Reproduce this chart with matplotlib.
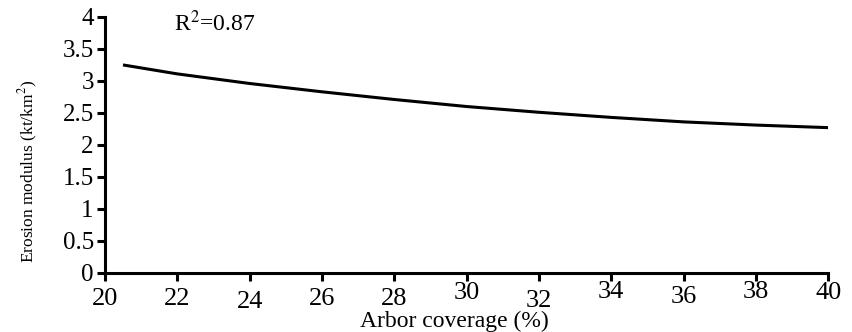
import numpy as np
import matplotlib
matplotlib.use('Agg')
import matplotlib.pyplot as plt
from matplotlib.transforms import ScaledTranslation

# fitted curve
coverage = [20.5, 22, 24, 26, 28, 30, 32, 34, 36, 38, 40]
erosion = [3.25, 3.11, 2.96, 2.83, 2.71, 2.60, 2.51, 2.43, 2.36, 2.31, 2.27]
xticks = [20, 22, 24, 26, 28, 30, 32, 34, 36, 38, 40]
yticks = [0, 0.5, 1, 1.5, 2, 2.5, 3, 3.5, 4]
r2_text = 'R$^2$=0.87'

plt.rcParams['font.family'] = ['Liberation Serif', 'DejaVu Serif']
plt.rcParams['mathtext.fontset'] = 'stix'

fig = plt.figure(figsize=(8.53, 3.32), dpi=100)
ax = fig.add_axes([0.123, 0.178, 0.848, 0.771])

ax.plot(coverage, erosion, color='black', lw=2.2, solid_capstyle='butt')

ax.set_xlim(20, 40)
ax.set_ylim(0, 4)
ax.set_xticks(xticks)
ax.set_yticks(yticks)
ax.set_yticklabels([f'{v:g}' for v in yticks])

for side in ['top', 'right']:
    ax.spines[side].set_visible(False)
for side in ['left', 'bottom']:
    ax.spines[side].set_linewidth(2.2)
ax.tick_params(axis='both', direction='out', length=6, width=2.2, color='black')
ax.tick_params(axis='x', labelsize=19, pad=5)
ax.tick_params(axis='y', labelsize=18, pad=2)

# the x tick labels sit at slightly uneven heights in the original (pixels)
jitter = [0, 0, -3, 0, 0, 6, -2, 7, 2, 7, 6]
for lab, dy in zip(ax.get_xticklabels(), jitter):
    lab.set_transform(lab.get_transform() + ScaledTranslation(0, dy / 100, fig.dpi_scale_trans))

ax.set_xlabel('Arbor coverage (%)', fontsize=17)
ax.xaxis.set_label_coords(0.483, -0.15)
ax.set_ylabel('Erosion modulus (kt/km$^2$)', fontsize=12.5)
ax.yaxis.set_label_coords(-0.09, 0.395)

ax.text(21.9, 3.9, r2_text, fontsize=17, ha='left', va='center')

fig.savefig('out.png', dpi=100)
